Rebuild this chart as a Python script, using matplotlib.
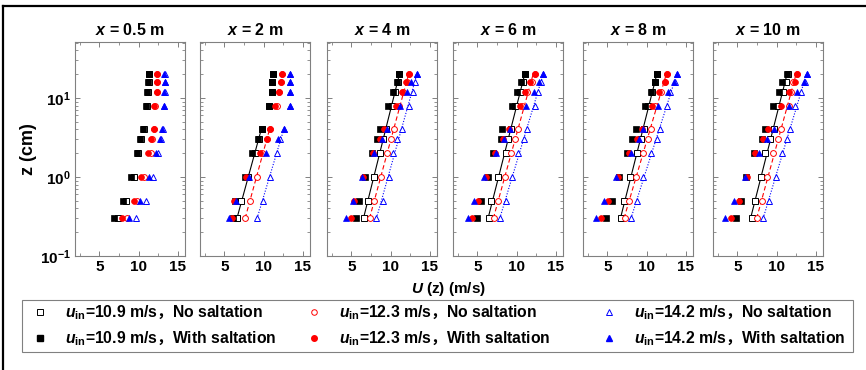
import numpy as np
import matplotlib
matplotlib.use("Agg")
import matplotlib.pyplot as plt
from matplotlib.lines import Line2D
from matplotlib.patches import Rectangle
from matplotlib.ticker import FixedLocator, LogLocator, NullFormatter

plt.rcParams['font.family'] = ['Liberation Sans', 'Noto Sans CJK SC']
plt.rcParams['font.weight'] = 'bold'
plt.rcParams['mathtext.fontset'] = 'custom'
plt.rcParams['mathtext.rm'] = 'Liberation Sans:bold'
plt.rcParams['mathtext.it'] = 'Liberation Sans:italic:bold'
plt.rcParams['mathtext.bf'] = 'Liberation Sans:bold'
plt.rcParams['mathtext.bfit'] = 'Liberation Sans:italic:bold'
plt.rcParams['mathtext.sf'] = 'Noto Sans CJK SC:bold'

# ---- data ----
positions = ["0.5", "2", "4", "6", "8", "10"]
z_cm = [0.3, 0.5, 1, 2, 3, 4, 8, 12, 16, 20]

# No saltation, u_in = 10.9 m/s (one row per x position)
ns109 = [
    [7.4, 8.45, 9.4, 9.9, 10.3, 10.65, 11.0, 11.15, 11.3, 11.35],
    [6.65, 7.15, 8.05, 8.85, 9.35, 9.73, 10.65, 11.0, 11.1, 11.25],
    [6.56, 7.1, 7.83, 8.6, 9.05, 9.37, 10.12, 10.57, 10.88, 11.12],
    [6.48, 6.77, 7.66, 8.59, 8.92, 9.3, 9.85, 10.44, 10.8, 11.1],
    [6.71, 7.17, 7.89, 8.82, 9.3, 9.6, 10.21, 10.7, 11.0, 11.35],
    [6.84, 7.22, 8.02, 8.57, 9.16, 9.6, 10.21, 10.76, 11.18, 11.4],
]
ws109 = [
    [6.9, 7.95, 9.0, 9.8, 10.2, 10.6, 10.9, 11.1, 11.25, 11.3],
    [6.1, 6.3, 7.6, 8.55, 9.3, 9.73, 10.65, 11.0, 11.1, 11.25],
    [5.63, 6.0, 6.73, 7.6, 8.2, 8.59, 9.64, 10.3, 10.8, 11.12],
    [5.0, 5.42, 6.3, 7.03, 7.95, 8.16, 9.35, 10.1, 10.6, 11.12],
    [4.81, 5.57, 6.54, 7.51, 8.14, 8.65, 9.83, 10.5, 11.0, 11.35],
    [4.81, 5.44, 6.1, 7.13, 8.14, 8.48, 9.49, 10.25, 10.68, 11.35],
]
ns123 = [
    [8.5, 9.8, 10.7, 11.55, 11.7, 11.95, 12.1, 12.3, 12.3, 12.3],
    [7.66, 8.25, 9.1, 9.85, 10.4, 10.8, 11.7, 11.95, 12.2, 12.3],
    [7.32, 7.9, 8.75, 9.56, 10.06, 10.45, 11.1, 11.54, 12.1, 12.35],
    [7.1, 7.66, 8.5, 9.26, 9.85, 10.19, 10.7, 11.37, 11.96, 12.3],
    [7.22, 7.72, 8.65, 9.49, 10.17, 10.5, 11.0, 11.86, 12.3, 12.62],
    [7.51, 8.14, 8.82, 9.58, 10.17, 10.59, 11.52, 11.77, 12.1, 12.62],
]
ws123 = [
    [7.85, 9.35, 10.3, 11.2, 11.6, 11.9, 12.0, 12.3, 12.3, 12.3],
    [5.93, 6.27, 7.8, 9.55, 10.4, 10.8, 11.5, 11.9, 12.2, 12.3],
    [4.96, 5.34, 6.48, 7.74, 8.67, 9.1, 10.7, 11.4, 11.96, 12.3],
    [4.28, 5.04, 6.05, 7.28, 8.25, 9.0, 10.44, 11.12, 11.7, 12.3],
    [4.18, 5.02, 6.3, 7.76, 8.82, 9.41, 10.68, 11.6, 12.28, 12.62],
    [4.18, 5.15, 6.2, 7.3, 8.31, 8.9, 10.5, 11.52, 12.28, 12.62],
]
ns142 = [
    [9.7, 10.95, 11.85, 12.45, 12.8, 13.05, 13.2, 13.3, 13.4, 13.3],
    [9.1, 9.9, 10.75, 11.75, 12.1, 12.55, 13.35, 13.3, 13.3, 13.3],
    [8.16, 8.97, 9.73, 10.27, 10.86, 11.46, 12.3, 12.8, 13.06, 13.3],
    [7.83, 8.59, 9.43, 10.19, 10.9, 11.33, 12.3, 12.72, 13.06, 13.3],
    [7.97, 8.82, 9.58, 10.59, 11.27, 11.69, 12.53, 12.95, 13.59, 13.9],
    [8.31, 9.07, 9.87, 10.63, 11.27, 11.69, 12.36, 13.12, 13.63, 13.9],
]
ws142 = [
    [8.8, 10.2, 11.3, 12.2, 12.7, 13.0, 13.2, 13.25, 13.3, 13.25],
    [5.55, 6.5, 8.1, 10.3, 11.8, 12.55, 13.35, 13.3, 13.3, 13.3],
    [4.28, 5.17, 6.3, 7.83, 8.88, 9.5, 11.2, 12.1, 12.64, 13.3],
    [3.82, 4.62, 5.89, 7.4, 8.38, 9.18, 11.2, 12.17, 12.8, 13.4],
    [3.54, 4.6, 6.08, 7.97, 9.07, 9.58, 11.43, 12.78, 13.46, 13.9],
    [3.46, 4.6, 6.03, 7.72, 8.82, 9.66, 11.52, 12.62, 13.46, 13.9],
]
# upper height (cm) of the log-law fit line through the no-saltation data (None = no line)
fit_top = [None, 4, 20, 20, 20, 20]

u_in = ["10.9", "12.3", "14.2"]

# ---- figure ----
W, H = 866, 370
fig = plt.figure(figsize=(W / 100, H / 100), dpi=100)

lefts = [75, 200, 327, 453, 583, 713]
ax_w, ax_top, ax_bot = 110, 42, 256
spine_col = '#808080'

colors = ['black', '#ff0000', '#0000ff']
markers = ['s', 'o', '^']
lstyles = ['-', (0, (4, 2.5)), (0, (1, 1.5))]
ns_all = [ns109, ns123, ns142]
ws_all = [ws109, ws123, ws142]

z = np.array(z_cm)
for i, pos in enumerate(positions):
    ax = fig.add_axes([lefts[i] / W, (H - ax_bot) / H, ax_w / W, (ax_bot - ax_top) / H])
    for k in range(3):
        ns = np.array(ns_all[k][i])
        if fit_top[i] is not None:
            sel = z <= fit_top[i]
            b, a = np.polyfit(np.log(z[sel]), ns[sel], 1)
            zz = np.array([z[sel].min(), z[sel].max()])
            ax.plot(a + b * np.log(zz), zz, color=colors[k], ls=lstyles[k], lw=0.8, zorder=2)
        ax.plot(ns, z, ls='none', marker=markers[k], ms=4.2, mfc='white',
                mec=colors[k], mew=0.7, zorder=3)
    for k in range(3):
        ws = np.array(ws_all[k][i])
        ax.plot(ws, z, ls='none', marker=markers[k], ms=4.2, mfc=colors[k],
                mec=colors[k], mew=0.5, zorder=4)
    ax.set_yscale('log')
    ax.set_ylim(0.1, 51)
    ax.set_xlim(1.9, 15.9)
    ax.xaxis.set_major_locator(FixedLocator([5, 10, 15]))
    ax.xaxis.set_minor_locator(FixedLocator([2.5, 7.5, 12.5]))
    ax.yaxis.set_major_locator(LogLocator(base=10, numticks=10))
    ax.yaxis.set_minor_locator(LogLocator(base=10, subs=np.arange(2, 10), numticks=10))
    ax.yaxis.set_minor_formatter(NullFormatter())
    ax.tick_params(which='both', direction='in', top=True, right=True, color=spine_col)
    ax.tick_params(which='major', length=3.5, width=0.7, labelsize=11, pad=3)
    ax.tick_params(which='minor', length=2, width=0.6)
    for lab in ax.get_xticklabels() + ax.get_yticklabels():
        lab.set_fontweight('bold')
    if i > 0:
        ax.set_yticklabels([])
    else:
        ax.set_ylabel('z (cm)', fontsize=13, fontweight='bold', labelpad=2)
    for s in ax.spines.values():
        s.set_color(spine_col)
        s.set_linewidth(0.8)
    ax.set_title(r'$\mathbfit{x}$ = ' + pos + ' m', fontsize=11.5, fontweight='bold', pad=5)

fig.text(448 / W, 1 - 289 / H, r'$\mathbfit{U}$ (z) (m/s)', ha='center', va='center',
         fontsize=11, fontweight='bold')

# legend: one two-row block per inflow speed, inside a common frame
fig.add_artist(Rectangle((22 / W, 1 - 352 / H), (853 - 22) / W, 52 / H, transform=fig.transFigure,
                         fill=False, edgecolor=spine_col, lw=0.8))
col_x = [30.5, 304.5, 599.5]
for k in range(3):
    hs = [Line2D([], [], ls='none', marker=markers[k], ms=4, mfc='white', mec=colors[k], mew=0.7),
          Line2D([], [], ls='none', marker=markers[k], ms=4, mfc=colors[k], mec=colors[k])]
    ls = [r'$\mathbfit{u}_{\mathbf{in}}$=' + u_in[k] + r' m/s$\mathsf{，}$No saltation',
          r'$\mathbfit{u}_{\mathbf{in}}$=' + u_in[k] + r' m/s$\mathsf{，}$With saltation']
    lg = fig.legend(hs, ls, loc='center left', bbox_to_anchor=(col_x[k] / W, 1 - 326 / H),
                    prop={'family': ['Liberation Sans', 'Noto Sans CJK SC'], 'weight': 'bold', 'size': 11.3},
                    frameon=False, borderaxespad=0, borderpad=0,
                    handlelength=1.2, handletextpad=1.0, labelspacing=0.45)

# outer frame
fig.add_artist(Line2D([3 / W, 3 / W], [0, 1 - 6 / H], color='black', lw=1.6, transform=fig.transFigure))
fig.add_artist(Line2D([3 / W, 1], [1 - 6 / H, 1 - 6 / H], color='black', lw=1.6, transform=fig.transFigure))

fig.savefig('out.png', dpi=100)
